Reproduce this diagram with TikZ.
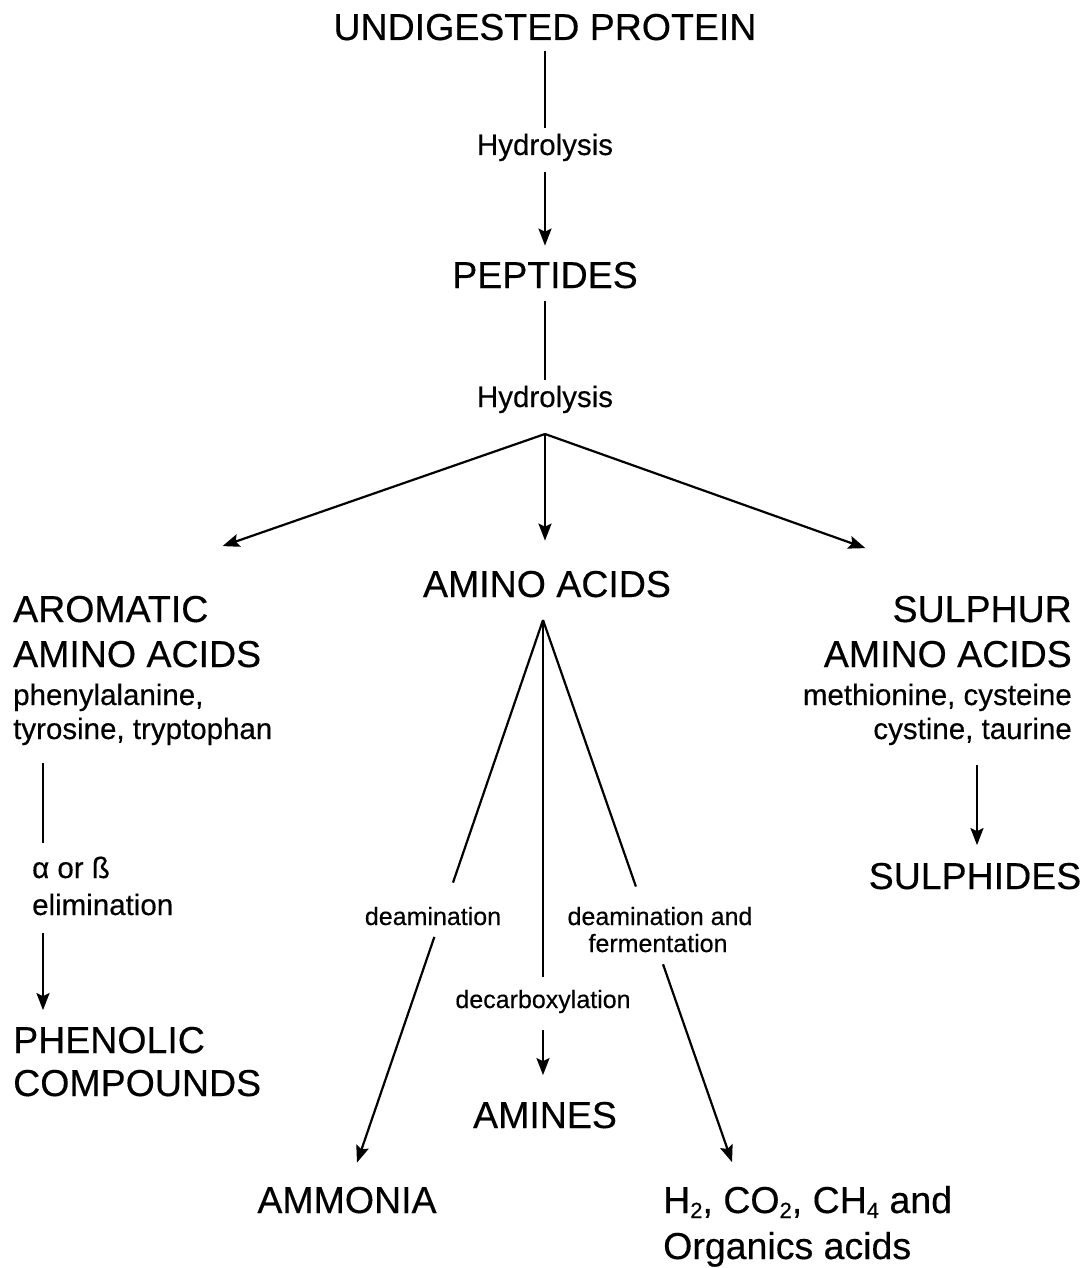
\documentclass[tikz,border=0pt]{standalone}
\usepackage{fontspec}
\setmainfont{Liberation Sans}[FakeBold=0.35]
\usetikzlibrary{arrows.meta,calc}
\newcommand{\sbs}[1]{\raisebox{-5pt}{\fontsize{22}{22}\selectfont #1}}
\begin{document}
\begin{tikzpicture}[x=1pt,y=-1pt,
  big/.style={font=\fontsize{37.5}{44}\selectfont,inner sep=0pt},
  sub/.style={font=\fontsize{29.5}{35}\selectfont,inner sep=0pt},
  sml/.style={font=\fontsize{25}{30}\selectfont,inner sep=0pt},
  conn/.style={line width=2.2pt},
  arr/.style={conn,-{Stealth[length=17pt,width=13pt,inset=3pt]}}]
\useasboundingbox (0,0) rectangle (1088,1268);
\fill[white] (0,0) rectangle (1088,1268);

% main chain
\node[big,anchor=base] (up) at (545,40) {UNDIGESTED PROTEIN};
\node[sub,anchor=base] (h1) at (545,155) {Hydrolysis};
\node[big,anchor=base] (pep) at (545,288) {PEPTIDES};
\node[sub,anchor=base] (h2) at (545,407) {Hydrolysis};
\coordinate (fan) at (545,434);
\node[big,anchor=base] (aa) at (547,597) {AMINO ACIDS};
\coordinate (aaap) at (543,620);

% left block
\node[big,anchor=base west] (ar1) at (13,622) {AROMATIC};
\node[big,anchor=base west] (ar2) at (13,667) {AMINO ACIDS};
\node[sub,anchor=base west] (ar3) at (13,705) {phenylalanine,};
\node[sub,anchor=base west] (ar4) at (13,739) {tyrosine, tryptophan};
\node[sub,anchor=base west] (el1) at (32,878) {α or ß};
\node[sub,anchor=base west] (el2) at (32,915) {elimination};
\node[big,anchor=base west] (ph1) at (13,1053) {PHENOLIC};
\node[big,anchor=base west] (ph2) at (13,1096) {COMPOUNDS};

% right block
\node[big,anchor=base east] (su1) at (1072,622) {SULPHUR};
\node[big,anchor=base east] (su2) at (1072,667) {AMINO ACIDS};
\node[sub,anchor=base east] (su3) at (1072,705) {methionine, cysteine};
\node[sub,anchor=base east] (su4) at (1072,739) {cystine, taurine};
\node[big,anchor=base] (sd) at (975,889) {SULPHIDES};

% lower part
\node[sml,anchor=base] (dm) at (433,925) {deamination};
\node[sml,anchor=base] (df1) at (660,925) {deamination and};
\node[sml,anchor=base] (df2) at (658,952) {fermentation};
\node[sml,anchor=base] (dc) at (543,1008) {decarboxylation};
\node[big,anchor=base] (am) at (545,1128) {AMINES};
\node[big,anchor=base] (amm) at (347,1213) {AMMONIA};
\node[big,anchor=base west] (gas1) at (663,1213) {H\sbs{2}, CO\sbs{2}, CH\sbs{4} and};
\node[big,anchor=base west] (gas2) at (663,1259) {Organics acids};

% helper coordinates
\coordinate (aatop) at ([yshift=30pt]aa.north);
\coordinate (artip) at ([xshift=14pt,yshift=49.5pt]ar1.north east);
\coordinate (sutip) at ([xshift=-27pt,yshift=47.5pt]su1.north west);
\coordinate (ammtip) at ([xshift=10pt,yshift=24pt]amm.north);
\coordinate (gastip) at ([xshift=69pt,yshift=23.5pt]gas1.north west);
\coordinate (dctop) at ([yshift=13pt]dc.north);

% connectors
\draw[conn] ([yshift=-10pt]up.south) -- ([yshift=5pt]h1.north);
\draw[arr] ([yshift=-11pt]h1.south) -- ([yshift=16pt]pep.north);
\draw[conn] ([yshift=-12pt]pep.south) -- ([yshift=5pt]h2.north);
\draw[arr] (fan) -- (fan |- aatop);
\draw[arr] (fan) -- (artip);
\draw[arr] (fan) -- (sutip);

\draw[conn] ([xshift=30pt,yshift=-18pt]ar4.south west) -- ([xshift=11pt,yshift=13.5pt]el1.north west);
\draw[arr] ([xshift=11pt,yshift=-18pt]el2.south west) -- ([xshift=30pt,yshift=16.5pt]ph1.north west);

\draw[arr] ([xshift=-95pt,yshift=-20pt]su4.south east) -- ([xshift=2pt,yshift=17.5pt]sd.north);

\draw[conn] (aaap) -- ($(aaap)!0.484!(ammtip)$);
\draw[arr] ($(aaap)!0.584!(ammtip)$) -- (ammtip);
\draw[conn] (aaap) -- (aaap |- dctop);
\draw[arr] ([yshift=-17pt]dc.south) -- ([xshift=-2pt,yshift=26.5pt]am.north);
\draw[conn] (aaap) -- ($(aaap)!0.4917!(gastip)$);
\draw[arr] ($(aaap)!0.635!(gastip)$) -- (gastip);
\end{tikzpicture}
\end{document}
